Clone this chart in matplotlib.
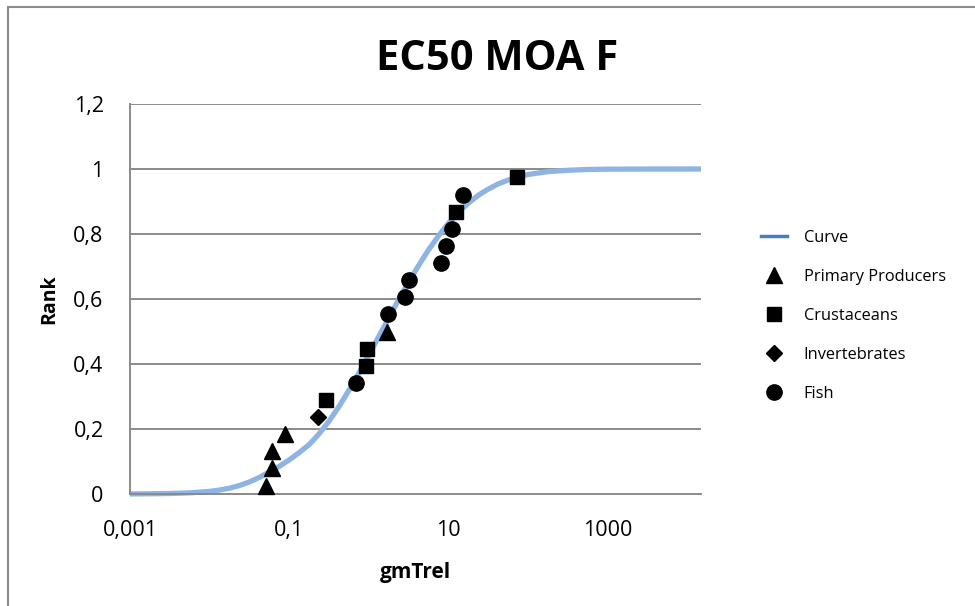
import matplotlib
matplotlib.use("Agg")
import matplotlib.pyplot as plt
from matplotlib.lines import Line2D
from matplotlib.patches import Rectangle

plt.rcParams['font.family'] = ['Open Sans', 'DejaVu Sans']

# ---- data ----
title = "EC50 MOA F"
x_label = "gmTrel"
y_label = "Rank"
x_ticks = [0.001, 0.1, 10, 1000]
x_tick_labels = ["0,001", "0,1", "10", "1000"]
y_ticks = [0, 0.2, 0.4, 0.6, 0.8, 1.0, 1.2]
y_tick_labels = ["0", "0,2", "0,4", "0,6", "0,8", "1", "1,2"]

# fitted curve
curve_x = [0.001, 0.00178, 0.00316, 0.00562, 0.01, 0.0133, 0.0178, 0.0237,
           0.0316, 0.0422, 0.0562, 0.075, 0.1, 0.133, 0.178, 0.237, 0.316,
           0.422, 0.562, 0.75, 1.0, 1.33, 1.78, 2.37, 3.16, 4.22, 5.62, 7.5,
           10, 13.3, 17.8, 23.7, 31.6, 42.2, 56.2, 75, 100, 178, 316, 562,
           1000, 3160, 14900]
curve_y = [0.0002, 0.0007, 0.0015, 0.0035, 0.008, 0.012, 0.018, 0.026,
           0.037, 0.051, 0.068, 0.085, 0.105, 0.127, 0.152, 0.185, 0.224,
           0.269, 0.319, 0.372, 0.427, 0.484, 0.541, 0.598, 0.652, 0.703,
           0.751, 0.794, 0.833, 0.866, 0.895, 0.919, 0.938, 0.954, 0.966,
           0.976, 0.983, 0.992, 0.996, 0.9985, 0.9995, 0.9999, 1.0]

pp_x = [0.051, 0.060, 0.060, 0.089, 1.68]
pp_y = [0.026, 0.079, 0.132, 0.184, 0.500]

cr_x = [0.288, 0.923, 0.940, 12.4, 72.0]
cr_y = [0.289, 0.395, 0.447, 0.868, 0.974]

inv_x = [0.228]
inv_y = [0.237]

fish_x = [0.690, 1.73, 2.85, 3.20, 8.0, 9.25, 11.0, 15.4]
fish_y = [0.342, 0.553, 0.605, 0.658, 0.711, 0.763, 0.816, 0.921]

# ---- figure ----
W, H = 975, 606
fig = plt.figure(figsize=(W / 100, H / 100), dpi=100)
ax = fig.add_axes([130 / W, 1 - 494 / H, (701 - 130) / W, (494 - 104) / H])

# outer chart border
fig.patches.append(Rectangle((8 / W, -0.1), 1.2, (1 - 7 / H) + 0.1,
                             transform=fig.transFigure, fill=False,
                             edgecolor='#8c8c8c', linewidth=1.5))

grid_c = '#8a8a8a'
ax.set_xscale('log')
ax.set_xlim(0.001, 14900)
ax.set_ylim(0, 1.2)
for yv in y_ticks[1:]:
    ax.axhline(yv, color=grid_c, linewidth=1.4, zorder=1)

ax.plot(curve_x, curve_y, color='#8db4e2', linewidth=3.8, zorder=2,
        clip_on=False, solid_capstyle='butt', solid_joinstyle='round')

ms = 11
ax.plot(pp_x, pp_y, linestyle='none', marker='^', color='black', markersize=ms, zorder=3, clip_on=False)
ax.plot(cr_x, cr_y, linestyle='none', marker='s', color='black', markersize=ms - 1, zorder=3, clip_on=False)
ax.plot(inv_x, inv_y, linestyle='none', marker='D', color='black', markersize=ms - 2.5, zorder=3, clip_on=False)
ax.plot(fish_x, fish_y, linestyle='none', marker='o', color='black', markersize=ms, zorder=3, clip_on=False)

for s in ['top', 'right']:
    ax.spines[s].set_visible(False)
for s in ['left', 'bottom']:
    ax.spines[s].set_color(grid_c)
    ax.spines[s].set_linewidth(1.4)

ax.set_xticks(x_ticks)
ax.set_xticklabels(x_tick_labels)
ax.minorticks_off()
ax.set_yticks(y_ticks)
ax.set_yticklabels(y_tick_labels)
ax.tick_params(axis='both', length=0, labelsize=15.5)
ax.tick_params(axis='x', pad=19)
ax.tick_params(axis='y', pad=19)

ax.set_xlabel(x_label, fontsize=15, fontweight='bold', labelpad=15)
ax.set_ylabel(y_label, fontsize=14, fontweight='bold', labelpad=10)

fig.text(497 / W, 1 - 59 / H, title, ha='center', va='center',
         fontsize=30, fontweight='bold')

handles = [
    Line2D([], [], color='#4a7ebb', linewidth=2.5),
    Line2D([], [], linestyle='none', marker='^', color='black', markersize=ms),
    Line2D([], [], linestyle='none', marker='s', color='black', markersize=ms - 1),
    Line2D([], [], linestyle='none', marker='D', color='black', markersize=ms - 2.5),
    Line2D([], [], linestyle='none', marker='o', color='black', markersize=ms),
]
labels = ["Curve", "Primary Producers", "Crustaceans", "Invertebrates", "Fish"]
fig.legend(handles, labels, loc='center left',
           bbox_to_anchor=(761 / W, 1 - 316 / H), frameon=False,
           fontsize=11.8, handlelength=1.6, handletextpad=1.0,
           labelspacing=1.40, borderpad=0, borderaxespad=0)

fig.savefig('out.png', dpi=100)
